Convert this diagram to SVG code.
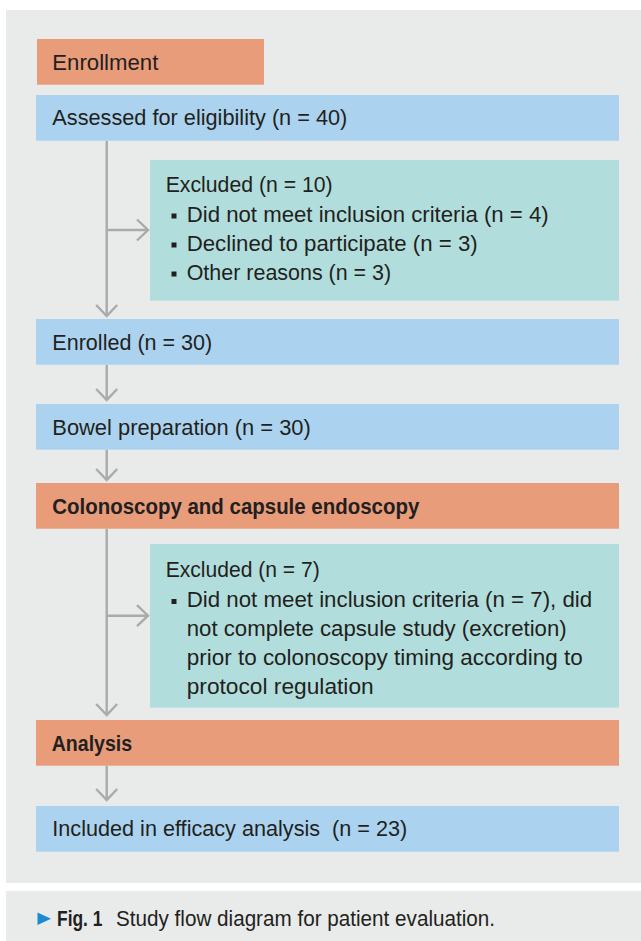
<svg xmlns="http://www.w3.org/2000/svg" width="641" height="941" viewBox="0 0 641 941">
<defs>
<style>
.panel{fill:#E9EBEA}
.orange{fill:#E89C7A}
.blue{fill:#ABD3EF}
.teal{fill:#B1DEDC}
text{font-family:"Liberation Sans",Arial,sans-serif;font-size:22.5px;fill:#231F20}
.b{font-weight:bold}
.cap{font-size:21.5px}
.bul{fill:#231F20}
.conn{stroke:#A9AAAC;stroke-width:2.4;fill:none}
</style>
<marker id="ah" viewBox="0 0 14 24" refX="12.5" refY="12" markerWidth="14" markerHeight="24" markerUnits="userSpaceOnUse" orient="auto">
<path d="M1.5,1.5 L12.5,12 L1.5,22.5" fill="none" stroke="#A9AAAC" stroke-width="2.4"/>
</marker>
</defs>
<rect width="641" height="941" fill="#FFFFFF"/>
<rect class="panel" x="6" y="10" width="635" height="873"/>
<rect class="panel" x="6" y="891" width="635" height="50"/>

<g id="connectors">
<line class="conn" x1="106.7" y1="140.7" x2="106.7" y2="316" marker-end="url(#ah)"/>
<line class="conn" x1="106.7" y1="230" x2="148" y2="230" marker-end="url(#ah)"/>
<line class="conn" x1="106.7" y1="364.7" x2="106.7" y2="400" marker-end="url(#ah)"/>
<line class="conn" x1="106.7" y1="449.7" x2="106.7" y2="480" marker-end="url(#ah)"/>
<line class="conn" x1="106.7" y1="528.7" x2="106.7" y2="715" marker-end="url(#ah)"/>
<line class="conn" x1="106.7" y1="615.7" x2="148" y2="615.7" marker-end="url(#ah)"/>
<line class="conn" x1="106.7" y1="765.7" x2="106.7" y2="800" marker-end="url(#ah)"/>
</g>

<g id="enrollment">
<rect class="orange" x="37" y="39" width="227" height="45.7"/>
<text x="52.3" y="70" textLength="106" lengthAdjust="spacingAndGlyphs">Enrollment</text>
</g>

<g id="assessed">
<rect class="blue" x="36" y="95" width="583" height="45.7"/>
<text x="52.3" y="125" textLength="295" lengthAdjust="spacingAndGlyphs">Assessed for eligibility (n = 40)</text>
</g>

<g id="excluded1">
<rect class="teal" x="150" y="160" width="469" height="140.7"/>
<text x="165.7" y="192" textLength="167" lengthAdjust="spacingAndGlyphs">Excluded (n = 10)</text>
<rect class="bul" x="171.5" y="213.5" width="5" height="5"/>
<text x="186.7" y="221.5" textLength="362" lengthAdjust="spacingAndGlyphs">Did not meet inclusion criteria (n = 4)</text>
<rect class="bul" x="171.5" y="242.5" width="5" height="5"/>
<text x="186.7" y="250.5" textLength="291" lengthAdjust="spacingAndGlyphs">Declined to participate (n = 3)</text>
<rect class="bul" x="171.5" y="271.5" width="5" height="5"/>
<text x="186.7" y="279.5" textLength="204.5" lengthAdjust="spacingAndGlyphs">Other reasons (n = 3)</text>
</g>

<g id="enrolled">
<rect class="blue" x="36" y="319" width="583" height="45.7"/>
<text x="52.3" y="350" textLength="160" lengthAdjust="spacingAndGlyphs">Enrolled (n = 30)</text>
</g>

<g id="bowel">
<rect class="blue" x="36" y="404" width="583" height="45.7"/>
<text x="52.3" y="435" textLength="258.5" lengthAdjust="spacingAndGlyphs">Bowel preparation (n = 30)</text>
</g>

<g id="colonoscopy">
<rect class="orange" x="36" y="483" width="583" height="45.7"/>
<text class="b" x="52.3" y="513.5" textLength="367" lengthAdjust="spacingAndGlyphs">Colonoscopy and capsule endoscopy</text>
</g>

<g id="excluded2">
<rect class="teal" x="150" y="544" width="469" height="163.7"/>
<text x="165.7" y="577" textLength="154" lengthAdjust="spacingAndGlyphs">Excluded (n = 7)</text>
<rect class="bul" x="171.5" y="599" width="5" height="5"/>
<text x="186.7" y="606.5" textLength="405.5" lengthAdjust="spacingAndGlyphs">Did not meet inclusion criteria (n = 7), did</text>
<text x="186.7" y="636" textLength="380" lengthAdjust="spacingAndGlyphs">not complete capsule study (excretion)</text>
<text x="186.7" y="665" textLength="396" lengthAdjust="spacingAndGlyphs">prior to colonoscopy timing according to</text>
<text x="186.7" y="694" textLength="187" lengthAdjust="spacingAndGlyphs">protocol regulation</text>
</g>

<g id="analysis">
<rect class="orange" x="36" y="720" width="583" height="45.7"/>
<text class="b" x="51.7" y="750.5" textLength="80.5" lengthAdjust="spacingAndGlyphs">Analysis</text>
</g>

<g id="included">
<rect class="blue" x="36" y="806" width="583" height="45.7"/>
<text x="52.3" y="835.5" textLength="355" lengthAdjust="spacingAndGlyphs">Included in efficacy analysis&#160; (n = 23)</text>
</g>

<g id="caption">
<path d="M37.5,912.5 L51,918.7 L37.5,925 Z" fill="#1B8AD3"/>
<text class="b cap" x="57" y="926" textLength="45.5" lengthAdjust="spacingAndGlyphs">Fig. 1</text>
<text class="cap" x="116" y="926" textLength="379" lengthAdjust="spacingAndGlyphs">Study flow diagram for patient evaluation.</text>
</g>
</svg>
